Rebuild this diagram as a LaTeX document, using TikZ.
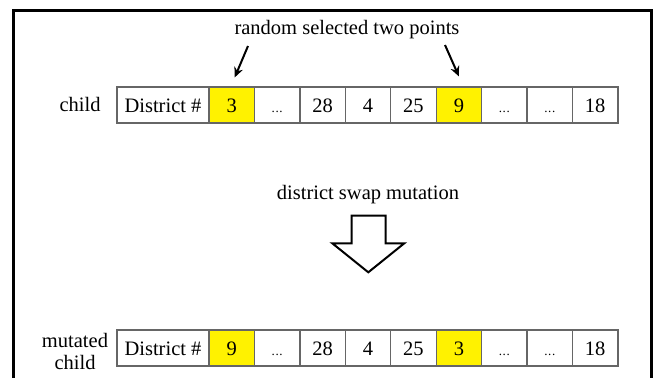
\documentclass[tikz,border=0pt]{standalone}
\usepackage{fontspec}
\setmainfont{Liberation Serif}
\usetikzlibrary{arrows.meta}
\tikzset{
  cell/.style={draw=black!60, line width=1.2pt, minimum width=45.4pt,
    minimum height=36pt, inner sep=0pt, text height=16pt, text depth=1.5pt,
    anchor=center},
  label/.style={inner sep=0pt, align=center},
  pick/.style={-{Stealth[length=10pt,width=9pt]}, line width=2pt}
}
\newcommand{\skipDots}{{\fontsize{13}{13}\selectfont .\kern0.6pt.\kern0.6pt.}}
\newcommand{\drawRow}[3]{
  \node[cell, minimum width=92pt] (#1D) at (163,#2) {District \#};
  \foreach \val/\col [count=\i] in {#3}
    \node[cell, fill=\col] (#1\i) at ({209+45.44*(\i-0.5)},#2) {\val};
}

\begin{document}
\begin{tikzpicture}[x=1pt, y=-1pt, font=\fontsize{20.5}{22}\selectfont]
  \useasboundingbox (0,0) rectangle (657,378);
  \clip (0,0) rectangle (657,378);
  % Frame
  \draw[line width=3pt] (13,395) -- (13,10) -- (651.5,10) -- (651.5,395);

  % Rows
  \node[label] (child) at (80,104) {child};
  \drawRow{c}{105}{3/yellow,\skipDots/white,28/white,4/white,25/white,9/yellow,\skipDots/white,\skipDots/white,18/white}
  \node[label] (mchild) at (75,351) {mutated\\child};
  \drawRow{m}{348}{9/yellow,\skipDots/white,28/white,4/white,25/white,3/yellow,\skipDots/white,\skipDots/white,18/white}

  % Selected points
  \node[label] (sel) at (347,30) {random selected two points};
  \coordinate (p1) at (248,46);
  \coordinate (p2) at (445,45);
  \draw[pick] (p1) -- ([xshift=3pt,yshift=9pt]c1.north);
  \draw[pick] (p2) -- ([xshift=0pt,yshift=10pt]c6.north);

  % Mutation
  \node[label] (swap) at (368,195) {district swap mutation};
  \draw[line width=2pt, line join=miter, fill=white]
    (351.7,215.7) -- (385.7,215.7) -- (385.7,243.3) -- (404.3,243.3)
    -- (368.3,272.3) -- (332.3,243.3) -- (351.7,243.3) -- cycle;
\end{tikzpicture}
\end{document}
